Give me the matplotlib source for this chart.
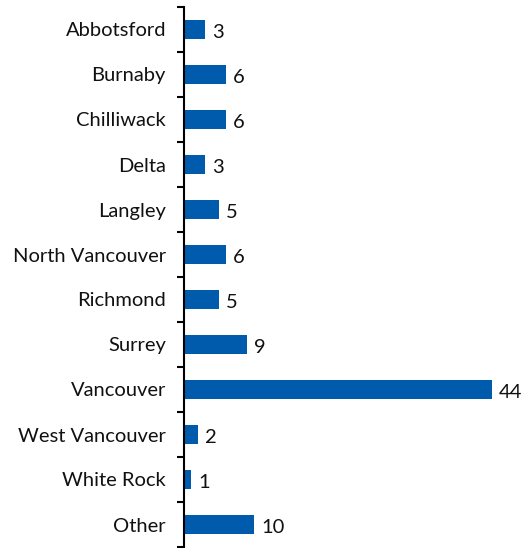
import matplotlib.pyplot as plt
import numpy as np

#######################################
#### Data
#######################################
cities = ["Abbotsford", "Burnaby", "Chilliwack", "Delta", "Langley",
          "North Vancouver", "Richmond", "Surrey", "Vancouver",
          "West Vancouver", "White Rock", "Other"]
counts = [3, 6, 6, 3, 5, 6, 5, 9, 44, 2, 1, 10]

bar_color = "#005BAC"

plt.rcParams['font.family'] = ['Lato', 'DejaVu Sans']

fig = plt.figure(figsize=(5.23, 5.48), dpi=100)
ax = fig.add_axes([184/523, 1/548, (499-184)/523, (547-7)/548])

y = np.arange(len(cities))
ax.barh(y, counts, height=0.43, color=bar_color, zorder=2)

for yi, v in zip(y, counts):
   ax.annotate(str(v), (v, yi), xytext=(5, -2), textcoords="offset points",
               va="center", ha="left", fontsize=14.5, color="#111111")

ax.set_xlim(0, 45)
ax.set_ylim(len(cities) - 0.5, -0.5)

# labels at centres, tick marks at the boundaries between bars
ax.set_yticks(y)
ax.set_yticklabels(cities, fontsize=14.5, color="#111111")
ax.tick_params(axis="y", which="major", length=0, pad=13)
ax.set_yticks(np.arange(-0.5, len(cities)), minor=True)
ax.tick_params(axis="y", which="minor", length=5, width=1.5, direction="out")

ax.set_xticks([])
for s in ["top", "right", "bottom"]:
   ax.spines[s].set_visible(False)
ax.spines["left"].set_linewidth(1.5)

plt.savefig("out.png", dpi=100)
